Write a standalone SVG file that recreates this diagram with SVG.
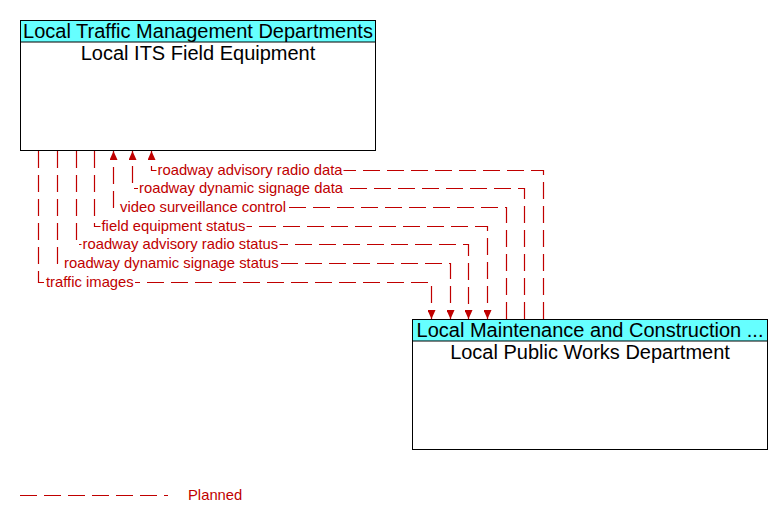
<svg xmlns="http://www.w3.org/2000/svg" width="782" height="522" viewBox="0 0 782 522">
<defs>
<style>
.box{fill:#ffffff;stroke:#000000;stroke-width:1}
.hdr{fill:#66ffff;stroke:#000000;stroke-width:1}
.title{font-family:"Liberation Sans",Arial,sans-serif;font-size:20px;fill:#000000;text-anchor:middle}
.flow{fill:none;stroke:#c00000;stroke-width:1.2;stroke-dasharray:17 7}
.lbl{font-family:"Liberation Sans",Arial,sans-serif;font-size:14.8px;fill:#c00000}
.bg{fill:#ffffff}
</style>
<marker id="arr" viewBox="0 0 9 8" refX="9" refY="4" markerWidth="9" markerHeight="8" markerUnits="userSpaceOnUse" orient="auto">
<path d="M0,0 L9,4 L0,8 Z" fill="#c00000"/>
</marker>
</defs>
<rect width="782" height="522" fill="#ffffff"/>
<g id="local-its-field-equipment">
<rect class="box" x="20.5" y="20.5" width="355" height="130"/>
<rect class="hdr" x="20.5" y="20.5" width="355" height="21.5"/>
<text class="title" x="198" y="38">Local Traffic Management Departments</text>
<text class="title" x="198" y="60">Local ITS Field Equipment</text>
</g>
<g id="local-public-works-department">
<rect class="box" x="412.5" y="319.5" width="355" height="130"/>
<rect class="hdr" x="412.5" y="319.5" width="355" height="21.5"/>
<text class="title" x="590" y="337">Local Maintenance and Construction ...</text>
<text class="title" x="590" y="359">Local Public Works Department</text>
</g>
<g id="connectors">
<path class="flow" d="M543.5,319 L543.5,170.5 L151.5,170.5 L151.5,151" marker-end="url(#arr)"/>
<path class="flow" d="M524.5,319 L524.5,188.5 L132.5,188.5 L132.5,151" marker-end="url(#arr)"/>
<path class="flow" d="M506.5,319 L506.5,207.5 L113.5,207.5 L113.5,151" marker-end="url(#arr)"/>
<path class="flow" d="M94.5,151 L94.5,226.5 L487.5,226.5 L487.5,319" marker-end="url(#arr)"/>
<path class="flow" d="M76.5,151 L76.5,244.5 L468.5,244.5 L468.5,319" marker-end="url(#arr)"/>
<path class="flow" d="M57.5,151 L57.5,263.5 L450.5,263.5 L450.5,319" marker-end="url(#arr)"/>
<path class="flow" d="M38.5,151 L38.5,282.5 L431.5,282.5 L431.5,319" marker-end="url(#arr)"/>
<rect class="bg" x="156.5" y="162" width="187" height="14"/>
<text class="lbl" x="157.5" y="175">roadway advisory radio data</text>
<rect class="bg" x="138" y="180" width="206" height="14"/>
<text class="lbl" x="139" y="193">roadway dynamic signage data</text>
<rect class="bg" x="119" y="199" width="168" height="14"/>
<text class="lbl" x="120" y="212">video surveillance control</text>
<rect class="bg" x="100.5" y="218" width="146" height="14"/>
<text class="lbl" x="101.5" y="231">field equipment status</text>
<rect class="bg" x="81.5" y="236" width="198" height="14"/>
<text class="lbl" x="82.5" y="249">roadway advisory radio status</text>
<rect class="bg" x="63" y="255" width="217" height="14"/>
<text class="lbl" x="64" y="268">roadway dynamic signage status</text>
<rect class="bg" x="45" y="274" width="90" height="14"/>
<text class="lbl" x="46" y="287">traffic images</text>
</g>
<g id="legend">
<path class="flow" d="M20,495.5 L168,495.5"/>
<text class="lbl" x="188" y="500">Planned</text>
</g>
</svg>
